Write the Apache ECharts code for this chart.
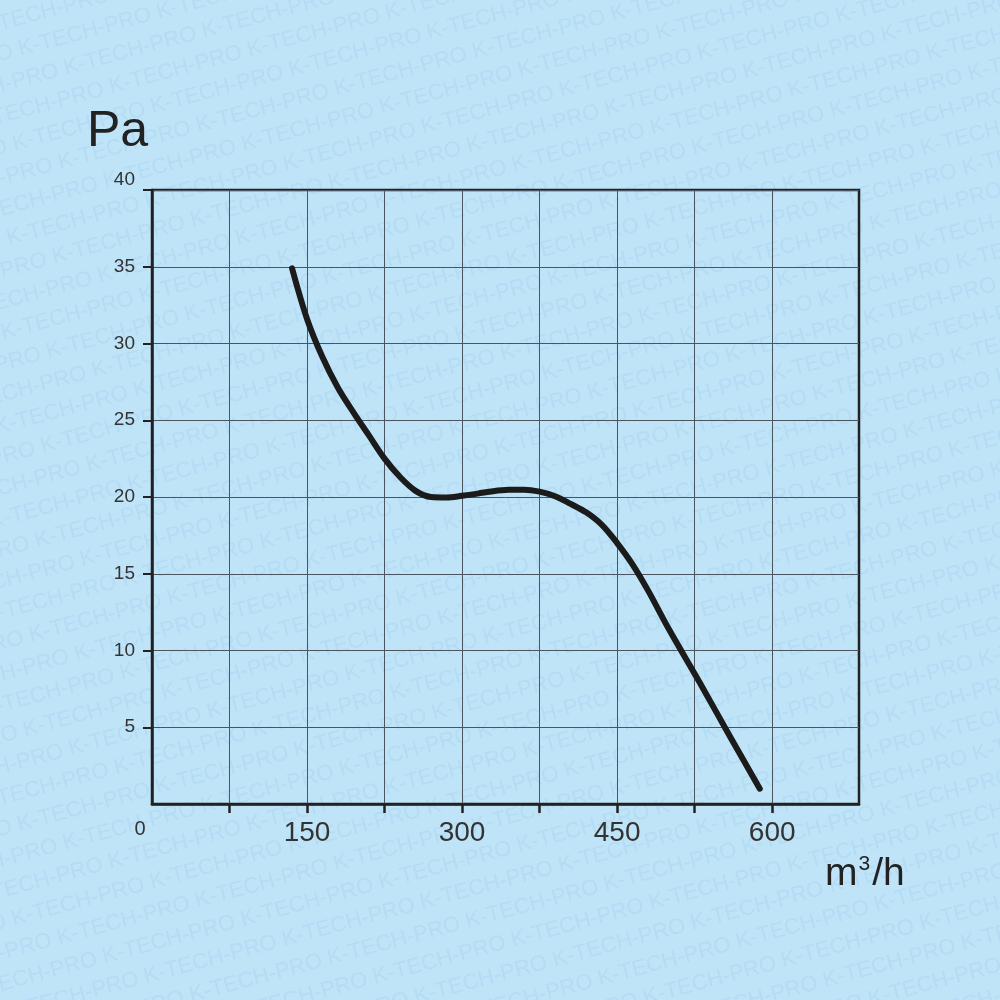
<!DOCTYPE html>
<html>
<head>
<meta charset="utf-8">
<script src="https://cdn.jsdelivr.net/npm/echarts@6/dist/echarts.min.js"></script>
<style>html,body{margin:0;padding:0;background:#bfe4f8}#chart{width:1000px;height:1000px}</style>
</head>
<body>
<div id="chart"></div>
<script>
// Data
var flowValues     = [135.5, 150, 165, 180, 195, 210, 225, 240, 255, 270, 285, 300, 315, 330, 345, 360, 375, 390, 405, 420, 435, 450, 465, 480, 500, 530, 560, 588];
var pressureValues = [34.9, 31.6, 29.1, 27.1, 25.5, 24.0, 22.5, 21.3, 20.4, 20.0, 19.97, 20.08, 20.22, 20.38, 20.47, 20.48, 20.35, 20.05, 19.55, 19.0, 18.2, 17.0, 15.6, 13.9, 11.4, 7.9, 4.3, 1.0];
var xTickValues  = [75, 150, 225, 300, 375, 450, 525, 600];
var xLabelValues = [0, 150, 300, 450, 600];
var yTickLabels  = [5, 10, 15, 20, 25, 30, 35, 40];
var yUnit = 'Pa';
var xUnit = 'm³/h';
var watermarkText = 'K-TECH-PRO';

var points = flowValues.map(function (v, i) { return [v, pressureValues[i]]; });

var graphics = [];
var angle = 15 * Math.PI / 180;
for (var k = -5; k < 50; k++) {
  var shift = (k * 47) % 147;
  graphics.push({
    type: 'text', x: -300 + shift * Math.cos(angle), y: k * 31 - shift * Math.sin(angle),
    rotation: angle, z: -100, silent: true,
    style: { text: new Array(14).join(watermarkText + ' '), fill: 'rgba(120,170,228,0.14)',
             font: '22px "Liberation Sans", Arial, sans-serif' }
  });
}
graphics.push({
  type: 'text', x: 87, y: 132, z: 10,
  style: { text: yUnit, fill: '#222', font: '50px "Liberation Sans", Arial, sans-serif', verticalAlign: 'middle' }
});
graphics.push({
  type: 'text', x: 825, y: 874, z: 10,
  style: {
    text: '{a|m}{s|3}{a|/h}', verticalAlign: 'middle', fill: '#222',
    rich: {
      a: { fontSize: 39, fontFamily: '"Liberation Sans", Arial, sans-serif', fill: '#222' },
      s: { fontSize: 21, fontFamily: '"Liberation Sans", Arial, sans-serif', fill: '#222', padding: [0, 2, 20, 1] }
    }
  }
});

var chart = echarts.init(document.getElementById('chart'), null, { renderer: 'canvas' });
chart.setOption({
  backgroundColor: '#bfe4f8',
  animation: false,
  graphic: graphics,
  grid: { left: 152, top: 190, right: 141, bottom: 196, show: true, borderColor: '#222', borderWidth: 2.5, backgroundColor: 'transparent' },
  xAxis: {
    type: 'value', min: 0, max: 684, interval: 75,
    axisLine: { show: true, onZero: false, lineStyle: { color: '#222', width: 2.5 } },
    axisTick: { show: true, length: 9, customValues: xTickValues, lineStyle: { color: '#222', width: 2.5 } },
    splitLine: { show: true, lineStyle: { color: '#4a5560', width: 1 } },
    axisLabel: {
      customValues: xLabelValues, margin: 15, color: '#333', fontSize: 28, fontFamily: '"Liberation Sans", Arial, sans-serif',
      formatter: function (v) { return v === 0 ? '{z|0}' : String(v); },
      rich: { z: { fontSize: 20, color: '#333', padding: [0, 24, 0, 0] } }
    }
  },
  yAxis: {
    type: 'value', min: 0, max: 40, interval: 5,
    axisLine: { show: true, onZero: false, lineStyle: { color: '#222', width: 2.5 } },
    axisTick: { show: true, length: 9, customValues: yTickLabels, lineStyle: { color: '#222', width: 2 } },
    splitLine: { show: true, lineStyle: { color: '#4a5560', width: 1 } },
    axisLabel: {
      customValues: yTickLabels, margin: 17, color: '#333', fontSize: 19, fontFamily: '"Liberation Sans", Arial, sans-serif',
      formatter: function (v) { return v === 40 ? '{t|40}' : String(v); },
      rich: { t: { fontSize: 19, color: '#333', padding: [0, 0, 20, 0] } }
    }
  },
  series: [{
    type: 'line', data: points, smooth: 0.35, showSymbol: false, symbol: 'none',
    lineStyle: { color: '#1b1b1b', width: 6, cap: 'round', join: 'round' }, z: 5
  }]
});
</script>
</body>
</html>
